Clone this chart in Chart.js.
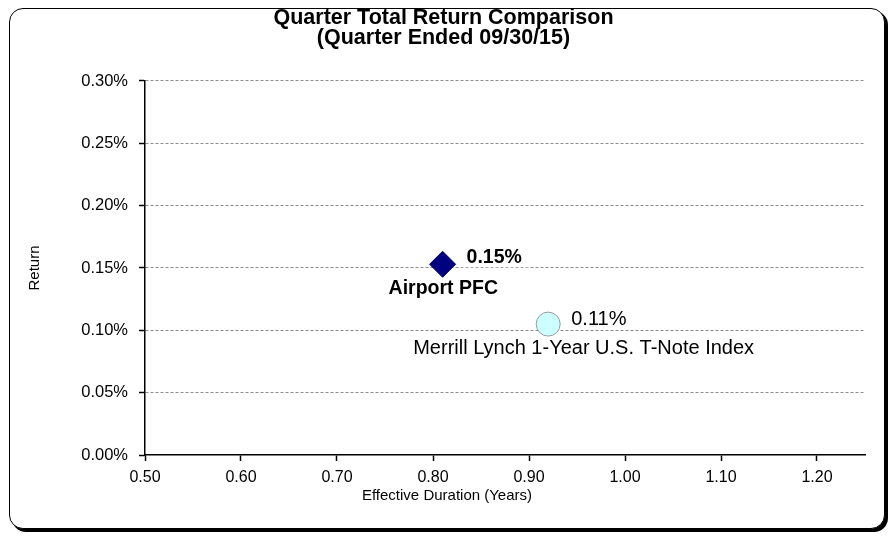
<!DOCTYPE html>
<html>
<head>
<meta charset="utf-8">
<script src="https://cdn.jsdelivr.net/npm/chart.js@4/dist/chart.umd.min.js"></script>
<style>
  body { margin: 0; background: #fff; }
  #wrap { position: relative; width: 894px; height: 538px; }
  #frame { position: absolute; left: 9px; top: 8px; width: 874px; height: 519px;
           border: 1.5px solid #000; border-radius: 14px; box-shadow: 3px 3px 0 #000; background: #fff; }
  canvas { position: absolute; left: 0; top: 0; }
</style>
</head>
<body>
<div id="wrap">
  <div id="frame"></div>
  <canvas id="myChart" width="894" height="538"></canvas>
</div>
<script>
// series (x = effective duration in years, y = quarter return in %)
var seriesNames = ['Airport PFC', 'Merrill Lynch 1-Year U.S. T-Note Index']
var durations = [0.81, 0.92]
var returns = [0.153, 0.105]
var returnLabels = ['0.15%', '0.11%']

var xTicks = [0.50, 0.60, 0.70, 0.80, 0.90, 1.00, 1.10, 1.20]
var yTicks = [0.00, 0.05, 0.10, 0.15, 0.20, 0.25, 0.30]
var xTitle = 'Effective Duration (Years)'

var font = 'Arial, "Liberation Sans", sans-serif'

// draws value + name next to each point, on a white patch so the grid breaks
var pointLabels = {
  id: 'pointLabels',
  afterDatasetsDraw(chart) {
    const ctx = chart.ctx
    const spots = [
      { dx: 24, dy: -7, ndx: -54, ndy: 24, font: 'bold 19.5px ' },
      { dx: 23, dy: -5, ndx: -135, ndy: 24, font: '20px ' }
    ]
    chart.data.datasets.forEach((ds, i) => {
      const pt = chart.getDatasetMeta(i).data[0]
      const s = spots[i]
      ctx.save()
      ctx.textBaseline = 'middle'
      ctx.textAlign = 'left'
      ctx.font = s.font + font
      let t = returnLabels[i]
      let w = ctx.measureText(t).width
      ctx.fillStyle = '#fff'
      ctx.fillRect(pt.x + s.dx - 8, pt.y + s.dy - 10, w + 16, 20)
      ctx.fillStyle = '#000'
      ctx.fillText(t, pt.x + s.dx, pt.y + s.dy)
      t = seriesNames[i]
      ctx.fillText(t, pt.x + s.ndx, pt.y + s.ndy)
      ctx.restore()
    })
    // x axis title, centred on the whole chart like the original
    ctx.save()
    ctx.font = '15px ' + font
    ctx.fillStyle = '#000'
    ctx.textAlign = 'center'
    ctx.textBaseline = 'middle'
    ctx.fillText(xTitle, chart.width / 2, chart.scales.x.bottom - 22)
    ctx.restore()
  }
}

let ctx = document.getElementById('myChart').getContext('2d')
let chart = new Chart(ctx, {
    type: 'scatter',
    data: {
        datasets: [{
            label: seriesNames[0],
            data: [{ x: durations[0], y: returns[0] }],
            pointStyle: 'rectRot',
            pointRadius: 13,
            pointHoverRadius: 13,
            backgroundColor: '#000080',
            borderColor: '#000060',
            borderWidth: 1
        },
        {
            label: seriesNames[1],
            data: [{ x: durations[1], y: returns[1] }],
            pointStyle: 'circle',
            pointRadius: 12,
            pointHoverRadius: 12,
            backgroundColor: '#ccffff',
            borderColor: '#9a9a9a',
            borderWidth: 1
        }]
    },
    plugins: [pointLabels],
    options: {
        responsive: false,
        animation: false,
        layout: { padding: { left: 22, right: 29, top: 0, bottom: 20 } },
        plugins: {
            legend: { display: false },
            tooltip: { enabled: false },
            title: {
                display: true,
                text: ['Quarter Total Return Comparison', '(Quarter Ended 09/30/15)'],
                color: '#000',
                font: { family: font, size: 21.5, weight: 'bold', lineHeight: 0.93 },
                padding: { top: 8, bottom: 33 }
            }
        },
        scales: {
            x: {
                type: 'linear',
                min: 0.5,
                max: 1.25,
                afterBuildTicks: (s) => { s.ticks = xTicks.map(v => ({ value: v })) },
                afterFit: (s) => { s.height = 63 },
                border: { color: '#000', width: 1.5 },
                grid: { drawOnChartArea: false, drawTicks: true, tickLength: 6, tickColor: '#000', tickWidth: 1.5 },
                ticks: { color: '#000', font: { family: font, size: 16 }, padding: 7,
                         callback: (v) => v.toFixed(2) }
            },
            y: {
                min: 0,
                max: 0.3,
                afterBuildTicks: (s) => { s.ticks = yTicks.map(v => ({ value: v })) },
                afterFit: (s) => { s.width = 123 },
                border: { color: '#000', width: 1.5, dash: [3, 2] },
                grid: { color: (c) => c.tick && c.tick.value === 0 ? 'rgba(0,0,0,0)' : '#8c8c8c',
                        lineWidth: 1,
                        drawTicks: true, tickLength: 6, tickColor: '#000', tickBorderDash: [], tickWidth: 1.5 },
                ticks: { color: '#000', font: { family: font, size: 16.5 }, padding: 11,
                         callback: (v) => v.toFixed(2) + '%' },
                title: { display: true, text: 'Return', color: '#000',
                         font: { family: font, size: 15 }, padding: { bottom: 0 } }
            }
        }
    }
})
</script>
</body>
</html>
